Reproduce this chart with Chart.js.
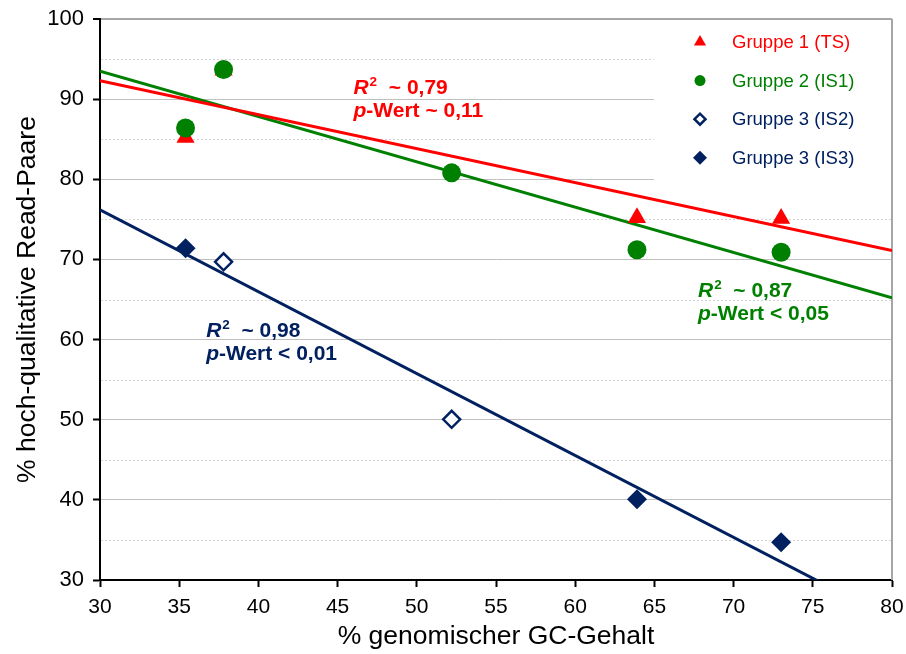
<!DOCTYPE html>
<html><head><meta charset="utf-8">
<script src="https://cdn.jsdelivr.net/npm/chart.js@4/dist/chart.umd.min.js"></script>
<style>html,body{margin:0;padding:0;background:#fff}</style>
</head><body>
<canvas id="c" width="906" height="654"></canvas>
<script>
// ---------- data ----------
const seriesNames = ['Gruppe 1 (TS)', 'Gruppe 2 (IS1)', 'Gruppe 3 (IS2)', 'Gruppe 3 (IS3)'];
const gcTS   = [35.4, 37.8, 63.9, 73.0];
const readsTS = [85.2, 93.6, 75.2, 75.1];
const gcIS1  = [35.4, 37.8, 52.2, 63.9, 73.0];
const readsIS1 = [86.4, 93.7, 80.8, 71.2, 70.9];
const gcIS2  = [37.8, 52.2];
const readsIS2 = [69.7, 50.05];
const gcIS3  = [35.4, 63.9, 73.0];
const readsIS3 = [71.4, 40.07, 34.7];
const trendX = [30, 80];
const trendTS = [92.3, 71.1];
const trendIS1 = [93.5, 65.2];
const trendIS23 = [76.2, 25.1];
const yTicks = [30, 40, 50, 60, 70, 80, 90, 100];
const yMinorTicks = [35, 45, 55, 65, 75, 85, 95];
const xTicks = [30, 35, 40, 45, 50, 55, 60, 65, 70, 75, 80];
const r2Texts = ['0,79', '0,87', '0,98'];
const pTexts = ['~ 0,11', '< 0,05', '< 0,01'];
const statAnchorX = [46.0, 67.75, 36.7];
const statAnchorY = [90.6, 65.3, 60.3];
const xTitle = '% genomischer GC-Gehalt';
const yTitle = '% hoch-qualitative Read-Paare';

// ---------- styles ----------
const RED = '#ff0000', GREEN = '#008000', NAVY = '#002060';
const FONT = "'Liberation Sans', Arial, Helvetica, sans-serif";
const seriesColors = [RED, GREEN, NAVY];

const pts = (xs, ys) => xs.map((v, i) => ({x: v, y: ys[i]}));

const datasets = [
  {label: seriesNames[0], data: pts(gcTS, readsTS), pointStyle: 'triangle', pointRadius: 10.5,
   backgroundColor: RED, borderColor: RED, borderWidth: 0, order: 4},
  {label: seriesNames[1], data: pts(gcIS1, readsIS1), pointStyle: 'circle', pointRadius: 9.5,
   backgroundColor: GREEN, borderColor: GREEN, borderWidth: 0, order: 3},
  {label: seriesNames[2], data: pts(gcIS2, readsIS2), pointStyle: 'rectRot', pointRadius: 8.5,
   backgroundColor: '#ffffff', borderColor: NAVY, borderWidth: 2.5, order: 2},
  {label: seriesNames[3], data: pts(gcIS3, readsIS3), pointStyle: 'rectRot', pointRadius: 10,
   backgroundColor: NAVY, borderColor: NAVY, borderWidth: 0, order: 1},
  {label: 'trendTS', data: pts(trendX, trendTS), showLine: true, pointRadius: 0, borderColor: RED, borderWidth: 3, order: 10},
  {label: 'trendIS1', data: pts(trendX, trendIS1), showLine: true, pointRadius: 0, borderColor: GREEN, borderWidth: 3, order: 10},
  {label: 'trendIS23', data: pts(trendX, trendIS23), showLine: true, pointRadius: 0, borderColor: NAVY, borderWidth: 3, order: 10}
];

const legendStyles = [
  {pointStyle: 'triangle', radius: 7, fill: RED, stroke: RED, bw: 0},
  {pointStyle: 'circle', radius: 5.5, fill: GREEN, stroke: GREEN, bw: 0},
  {pointStyle: 'rectRot', radius: 5.5, fill: '#ffffff', stroke: NAVY, bw: 2.5},
  {pointStyle: 'rectRot', radius: 7, fill: NAVY, stroke: NAVY, bw: 0}
];
const legendTextColors = [RED, GREEN, NAVY, NAVY];

function drawMarker(ctx, st, x, y) {
  ctx.save();
  ctx.fillStyle = st.fill; ctx.strokeStyle = st.stroke; ctx.lineWidth = st.bw;
  if (Chart.helpers && Chart.helpers.drawPoint) {
    Chart.helpers.drawPoint(ctx, {pointStyle: st.pointStyle, radius: st.radius, rotation: 0, borderWidth: st.bw}, x, y);
  } else {
    ctx.beginPath(); ctx.arc(x, y, st.radius, 0, Math.PI * 2); ctx.fill();
  }
  ctx.restore();
}

const decor = {
  id: 'decor',
  beforeDatasetsDraw(chart) {
    const {ctx, chartArea: a, scales: {y}} = chart;
    ctx.save();
    ctx.strokeStyle = '#d4d4d4'; ctx.lineWidth = 1; ctx.setLineDash([2, 2]);
    yMinorTicks.forEach(v => {
      const py = Math.round(y.getPixelForValue(v)) + 0.5;
      ctx.beginPath(); ctx.moveTo(a.left + 1, py); ctx.lineTo(a.right, py); ctx.stroke();
    });
    ctx.setLineDash([]);
    // legend background
    ctx.fillStyle = '#ffffff';
    ctx.fillRect(654, a.top + 1.5, a.right - 1 - 654, 175);
    // right border
    ctx.strokeStyle = '#a6a6a6'; ctx.lineWidth = 2;
    ctx.beginPath(); ctx.moveTo(a.right, a.top); ctx.lineTo(a.right, a.bottom); ctx.stroke();
    ctx.restore();
  },
  afterDatasetsDraw(chart) {
    const {ctx, scales: {x, y}} = chart;
    ctx.save();
    // legend
    ctx.textBaseline = 'middle'; ctx.textAlign = 'left';
    ctx.font = `18.5px ${FONT}`;
    seriesNames.forEach((n, i) => {
      const cy = 42 + i * 38.6;
      drawMarker(ctx, legendStyles[i], 700, cy);
      ctx.fillStyle = legendTextColors[i];
      ctx.fillText(n, 732, cy + 1);
    });
    // statistics
    ctx.textBaseline = 'alphabetic';
    r2Texts.forEach((r2, i) => {
      const px = x.getPixelForValue(statAnchorX[i]);
      const py = y.getPixelForValue(statAnchorY[i]);
      ctx.fillStyle = seriesColors[i];
      let cx = px;
      ctx.font = `italic bold 21px ${FONT}`; ctx.fillText('R', cx, py); cx += ctx.measureText('R').width + 1;
      ctx.font = `bold 13.5px ${FONT}`; ctx.fillText('2', cx, py - 8); cx += ctx.measureText('2').width;
      ctx.font = `bold 21px ${FONT}`; ctx.fillText('  ~ ' + r2, cx, py);
      cx = px;
      const py2 = py + 23;
      ctx.font = `italic bold 21px ${FONT}`; ctx.fillText('p', cx, py2); cx += ctx.measureText('p').width;
      ctx.font = `bold 21px ${FONT}`; ctx.fillText('-Wert ' + pTexts[i], cx, py2);
    });
    ctx.restore();
  }
};

new Chart(document.getElementById('c'), {
  type: 'scatter',
  data: {datasets},
  plugins: [decor],
  options: {
    responsive: false, animation: false, devicePixelRatio: 1,
    layout: {padding: {left: 0, top: 19, right: 14, bottom: 0}},
    plugins: {legend: {display: false}, tooltip: {enabled: false}},
    scales: {
      x: {
        type: 'linear', min: 30, max: 80,
        afterBuildTicks: s => { s.ticks = xTicks.map(v => ({value: v})); },
        afterFit: s => { s.height = 74; s.paddingLeft = 0; s.paddingRight = 0; },
        grid: {drawOnChartArea: false, drawTicks: true, tickLength: 7, tickColor: '#000', tickWidth: 2},
        border: {display: true, color: '#000', width: 2},
        ticks: {color: '#000', font: {family: FONT, size: 21}, padding: 8, maxRotation: 0},
        title: {display: true, text: xTitle, color: '#000', font: {family: FONT, size: 26.5}, padding: {top: 0, bottom: 1}}
      },
      y: {
        type: 'linear', min: 30, max: 100,
        afterBuildTicks: s => { s.ticks = yTicks.map(v => ({value: v})); },
        afterFit: s => { s.width = 100; s.paddingTop = 0; s.paddingBottom = 0; },
        grid: {
          color: c => c.tick && c.tick.value === 100 ? '#a6a6a6' : '#c0c0c0',
          lineWidth: c => c.tick && c.tick.value === 100 ? 2 : 1,
          drawTicks: true, tickLength: 7, tickColor: '#000', tickWidth: 2
        },
        border: {display: true, color: '#000', width: 2},
        ticks: {color: '#000', font: {family: FONT, size: 22}, padding: 9},
        title: {display: true, text: yTitle, color: '#000', font: {family: FONT, size: 26.5}, padding: {top: 12, bottom: 0}}
      }
    }
  }
});
</script>
</body></html>
